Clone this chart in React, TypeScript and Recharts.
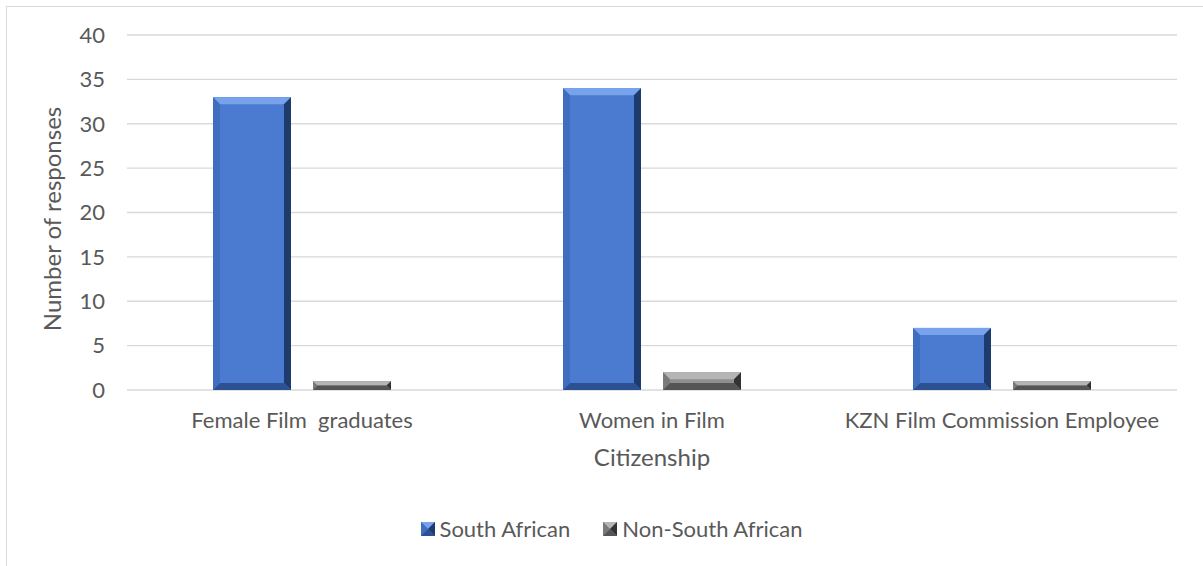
import React from 'react';
import { BarChart, Bar, XAxis, YAxis, CartesianGrid, Label } from 'recharts';

const categories = ['Female Film  graduates', 'Women in Film', 'KZN Film Commission Employee'];
const southAfrican = [33, 34, 7];
const nonSouthAfrican = [1, 2, 1];
const yTicks = [0, 5, 10, 15, 20, 25, 30, 35, 40];
const seriesNames = ['South African', 'Non-South African'];

const data = categories.map((name, i) => ({
  name,
  sa: southAfrican[i],
  nsa: nonSouthAfrican[i],
}));

const FONT = 'Lato, "Noto Sans", sans-serif';
const TEXT = '#595959';

type Palette = { main: string; top: string; left: string; right: string; bottom: string };

const bluePal: Palette = {
  main: '#4a7bd0',
  top: '#78a3ec',
  left: '#3f6dc0',
  right: '#1f3a6c',
  bottom: '#2d5093',
};

const greyPal: Palette = {
  main: '#8f8f8f',
  top: '#b5b5b5',
  left: '#7a7a7a',
  right: '#333333',
  bottom: '#555555',
};

const pts = (arr: number[][]) => arr.map((p) => p.join(',')).join(' ');

const makeBevel = (pal: Palette, maxB = 7) => (props: any) => {
  const { x, y, width: w, height: h } = props;
  if (!h || h <= 0) return <g />;
  const b = Math.min(maxB, w / 2, h / 2);
  return (
    <g>
      <rect x={x} y={y} width={w} height={h} fill={pal.main} />
      <polygon points={pts([[x, y], [x + w, y], [x + w - b, y + b], [x + b, y + b]])} fill={pal.top} />
      <polygon points={pts([[x, y], [x + b, y + b], [x + b, y + h - b], [x, y + h]])} fill={pal.left} />
      <polygon points={pts([[x + w, y], [x + w, y + h], [x + w - b, y + h - b], [x + w - b, y + b]])} fill={pal.right} />
      <polygon points={pts([[x, y + h], [x + w, y + h], [x + w - b, y + h - b], [x + b, y + h - b]])} fill={pal.bottom} />
    </g>
  );
};

const BlueBar = makeBevel(bluePal);
const GreyBar = makeBevel(greyPal);

const XTick = (props: any) => {
  const { x, y, payload } = props;
  return (
    <text x={x} y={y + 38} textAnchor="middle" fill={TEXT} fontSize={22} fontFamily={FONT} xmlSpace="preserve">
      {payload.value}
    </text>
  );
};

const YTitle = () => (
  <text
    x={51}
    y={219}
    transform="rotate(-90, 51, 219)"
    textAnchor="middle"
    dominantBaseline="central"
    fill={TEXT}
    fontSize={24}
    fontFamily={FONT}
  >
    Number of responses
  </text>
);

const LegendIcon = ({ pal }: { pal: Palette }) => (
  <svg width={14} height={14} style={{ display: 'block' }}>
    {makeBevel(pal, 7)({ x: 0, y: 0, width: 14, height: 14 })}
  </svg>
);

export default function App() {
  return (
    <div style={{ position: 'absolute', left: 0, top: 0, width: 1203, height: 566, background: '#fff', overflow: 'hidden' }}>
      <div
        style={{
          position: 'absolute',
          left: 6,
          top: 6,
          width: 1203,
          height: 566,
          borderLeft: '1px solid #d9d9d9',
          borderTop: '1px solid #d9d9d9',
        }}
      />
      <div style={{ position: 'absolute', left: 0, top: 0 }}>
        <BarChart
          width={1203}
          height={566}
          data={data}
          margin={{ top: 35, right: 26, bottom: 116, left: 0 }}
          barSize={78}
          barGap={22}
        >
          <CartesianGrid vertical={false} stroke="#d9d9d9" strokeWidth={1.3} />
          <XAxis
            dataKey="name"
            height={60}
            axisLine={false}
            tickLine={false}
            tickSize={0}
            tickMargin={0}
            tick={<XTick />}
            interval={0}
          >
            <Label
              value="Citizenship"
              content={() => (
                <text x={652} y={466} textAnchor="middle" fill={TEXT} fontSize={24} fontFamily={FONT}>
                  Citizenship
                </text>
              )}
            />
          </XAxis>
          <YAxis
            width={127}
            domain={[0, 40]}
            ticks={yTicks}
            axisLine={false}
            tickLine={false}
            tickSize={0}
            tickMargin={22}
            tick={{ fill: TEXT, fontSize: 22, fontFamily: FONT }}
          >
            <Label content={() => <YTitle />} />
          </YAxis>
          <Bar dataKey="sa" name={seriesNames[0]} shape={BlueBar} isAnimationActive={false} />
          <Bar dataKey="nsa" name={seriesNames[1]} shape={GreyBar} isAnimationActive={false} />
        </BarChart>
      </div>
      <div
        style={{
          position: 'absolute',
          left: 0,
          top: 515,
          width: 1203,
          display: 'flex',
          justifyContent: 'center',
          alignItems: 'center',
          fontFamily: FONT,
          fontSize: 22,
          color: TEXT,
          gap: 33,
          paddingLeft: 20,
          boxSizing: 'border-box',
        }}
      >
        {seriesNames.map((n, i) => (
          <div key={n} style={{ display: 'flex', alignItems: 'center', gap: 5 }}>
            <LegendIcon pal={i === 0 ? bluePal : greyPal} />
            <span>{n}</span>
          </div>
        ))}
      </div>
    </div>
  );
}
